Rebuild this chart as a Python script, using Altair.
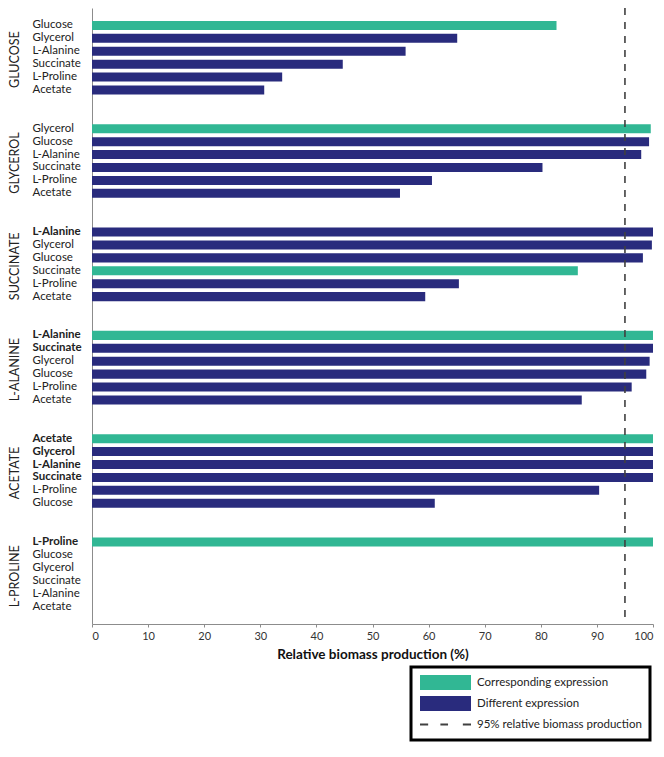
import json
import altair as alt
import pandas as pd

groups = ["GLUCOSE", "GLYCEROL", "SUCCINATE", "L-ALANINE", "ACETATE", "L-PROLINE"]

labels_glucose = ["Glucose", "Glycerol", "L-Alanine", "Succinate", "L-Proline", "Acetate"]
values_glucose = [82.8, 65.1, 55.9, 44.7, 33.9, 30.7]
bold_glucose = [False, False, False, False, False, False]

labels_glycerol = ["Glycerol", "Glucose", "L-Alanine", "Succinate", "L-Proline", "Acetate"]
values_glycerol = [99.6, 99.3, 97.9, 80.3, 60.6, 54.9]
bold_glycerol = [False, False, False, False, False, False]

labels_succinate = ["L-Alanine", "Glycerol", "Glucose", "Succinate", "L-Proline", "Acetate"]
values_succinate = [100.0, 99.8, 98.2, 86.6, 65.4, 59.4]
bold_succinate = [True, False, False, False, False, False]

labels_alanine = ["L-Alanine", "Succinate", "Glycerol", "Glucose", "L-Proline", "Acetate"]
values_alanine = [100.0, 100.0, 99.4, 98.8, 96.2, 87.3]
bold_alanine = [True, True, False, False, False, False]

labels_acetate = ["Acetate", "Glycerol", "L-Alanine", "Succinate", "L-Proline", "Glucose"]
values_acetate = [100.0, 100.0, 100.0, 100.0, 90.4, 61.1]
bold_acetate = [True, True, True, True, False, False]

labels_proline = ["L-Proline", "Glucose", "Glycerol", "Succinate", "L-Alanine", "Acetate"]
values_proline = [100.0, 0.0, 0.0, 0.0, 0.0, 0.0]
bold_proline = [True, False, False, False, False, False]

x_ticks = [0, 10, 20, 30, 40, 50, 60, 70, 80, 90, 100]
threshold = [95]
legend_labels = ["Corresponding expression", "Different expression", "95% relative biomass production"]
x_title = "Relative biomass production (%)"

all_labels = [labels_glucose, labels_glycerol, labels_succinate, labels_alanine, labels_acetate, labels_proline]
all_values = [values_glucose, values_glycerol, values_succinate, values_alanine, values_acetate, values_proline]
all_bold = [bold_glucose, bold_glycerol, bold_succinate, bold_alanine, bold_acetate, bold_proline]

rows = []
ydomain = []
bold_keys = []
title_rows = []
for gi, g in enumerate(groups):
    if gi > 0:
        ydomain += [f"gap{gi}a", f"gap{gi}b"]
    for li, (lab, val, b) in enumerate(zip(all_labels[gi], all_values[gi], all_bold[gi])):
        key = f"{g}|{lab}"
        ydomain.append(key)
        if b:
            bold_keys.append(key)
        rows.append({
            "key": key,
            "label": lab,
            "value": val,
            "type": legend_labels[0] if lab.upper() == g else legend_labels[1],
        })
    title_rows.append({"group": g, "key": f"{g}|{all_labels[gi][3]}"})

df = pd.DataFrame(rows)
df_titles = pd.DataFrame(title_rows)
df_rule = pd.DataFrame({"v": threshold})

TEAL = "#31b794"
NAVY = "#292b7d"
DASH = "#404040"
AXIS_GRAY = "#8c8c8c"

yscale = alt.Scale(domain=ydomain, paddingInner=0.3, paddingOuter=1)
xscale = alt.Scale(domain=[0, 100], nice=False)

dash_label = legend_labels[2]
symbol_expr = (
    f"datum.value === '{dash_label}' ? 'M-1,0H-0.68M-0.2,0H0.1M0.68,0H1' : 'M-1,-0.29H1V0.29H-1Z'"
)
stroke_expr = f"datum.value === '{dash_label}' ? '{DASH}' : 'transparent'"

bars = alt.Chart(df).mark_bar().encode(
    x=alt.X(
        "value:Q",
        scale=xscale,
        axis=alt.Axis(
            values=x_ticks,
            title=x_title,
            grid=False,
            tickSize=3,
            tickColor=AXIS_GRAY,
            domainColor=AXIS_GRAY,
            labelColor="#333333",
            labelFontSize=11,
            labelPadding=3,
            titleFontSize=13.5,
            titleFontWeight="bold",
            titleColor="#111111",
            titlePadding=6,
        ),
    ),
    y=alt.Y(
        "key:N",
        scale=yscale,
        sort=ydomain,
        axis=alt.Axis(
            title="",
            ticks=False,
            tickSize=0,
            domainColor=AXIS_GRAY,
            labelAlign="left",
            labelBaseline="middle",
            labelPadding=60,
            labelFontSize=11.5,
            labelColor="#222222",
            labelExpr="indexof(datum.value, '|') >= 0 ? split(datum.value, '|')[1] : ''",
            labelFontWeight={"expr": f"indexof({json.dumps(bold_keys)}, datum.value) >= 0 ? 'bold' : 'normal'"},
        ),
    ),
    color=alt.Color(
        "type:N",
        scale=alt.Scale(domain=legend_labels, range=[TEAL, NAVY, DASH]),
        legend=alt.Legend(
            title=None,
            orient="none",
            direction="vertical",
            legendX=319,
            legendY=659,
            strokeColor="#000000",
            padding=8,
            clipHeight=15,
            rowPadding=6,
            labelOffset=5,
            labelFontSize=11.5,
            labelLimit=400,
            labelColor="#222222",
            symbolSize=2601,
            symbolType={"expr": symbol_expr},
            symbolStrokeColor={"expr": stroke_expr},
            symbolStrokeWidth=2,
        ),
    ),
)

titles = alt.Chart(df_titles).mark_text(
    angle=270, align="center", baseline="top", fontSize=12.5, color="#222222"
).encode(
    x=alt.value(-83.5),
    y=alt.Y("key:N", scale=yscale, sort=ydomain, bandPosition=0),
    text="group:N",
)

rule = alt.Chart(df_rule).mark_rule(
    strokeDash=[7, 7], color=DASH, strokeWidth=1.6
).encode(x=alt.X("v:Q", scale=xscale))

chart = alt.layer(bars, rule, titles).properties(
    width=561,
    height=616,
    autosize=alt.AutoSizeParams(type="none"),
    padding={"left": 84, "top": 0, "right": 3, "bottom": 119},
).configure(
    font="Lato",
).configure_view(
    strokeWidth=0
).configure_legend(
    strokeWidth=3
)

chart.save("out.html", embed_options={"renderer": "svg", "actions": False})
